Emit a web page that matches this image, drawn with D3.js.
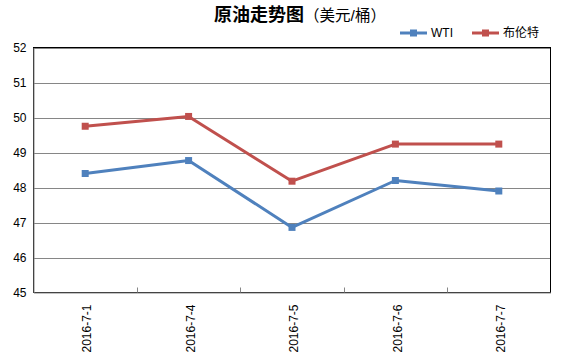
<!DOCTYPE html>
<html><head><meta charset="utf-8">
<script src="https://cdn.jsdelivr.net/npm/d3@7"></script>
<style>body{margin:0;background:#fff}svg{display:block}</style>
</head><body>
<svg id="c" width="567" height="360"></svg>
<script>
const categories = ["2016-7-1","2016-7-4","2016-7-5","2016-7-6","2016-7-7"];
const wti = [48.4, 48.77, 46.86, 48.2, 47.9];
const brent = [49.75, 50.03, 48.18, 49.24, 49.24];
const seriesNames = ["WTI","布伦特"];
const yTicks = [45,46,47,48,49,50,51,52];
const colors = ["#4F81BD","#C0504D"];

const svg = d3.select("#c");
const L=33.5, R=550.5, T=47.5, B=292.5;
const x = d3.scaleBand().domain(categories).range([L,R]);
const y = d3.scaleLinear().domain([45,52]).range([B,T]);
const font = "'Liberation Sans','Noto Sans CJK SC',sans-serif";

// gridlines
svg.append("g").selectAll("line").data(yTicks.slice(1)).join("line")
  .attr("x1",L).attr("x2",R).attr("y1",d=>Math.round(y(d))+0.5).attr("y2",d=>Math.round(y(d))+0.5)
  .attr("stroke","#868686").attr("stroke-width",1);
// plot border
svg.append("rect").attr("x",L).attr("y",T).attr("width",R-L).attr("height",B-T)
  .attr("fill","none").attr("stroke","#000").attr("stroke-width",1);
// y axis
const ya = svg.append("g").attr("transform",`translate(${L},0)`)
  .call(d3.axisLeft(y).tickValues(yTicks).tickFormat(d3.format("d")).tickSize(0).tickPadding(7));
ya.select(".domain").attr("stroke","#868686");
ya.selectAll("text").attr("font-family",font).attr("font-size",12).attr("fill","#000");
// x axis
const xa = svg.append("g").attr("transform",`translate(0,${B})`)
  .call(d3.axisBottom(x).tickSize(0));
xa.select(".domain").attr("stroke","#868686");
xa.selectAll(".tick text").attr("font-family",font).attr("font-size",12).attr("fill","#000")
  .attr("transform","rotate(-90)").attr("text-anchor","end").attr("x",-12).attr("y",2).attr("dy","0.35em");
// category boundary ticks (inside)
svg.append("g").selectAll("line").data(categories.slice(1)).join("line")
  .attr("x1",d=>Math.round(x(d))+0.5).attr("x2",d=>Math.round(x(d))+0.5)
  .attr("y1",B).attr("y2",B-5).attr("stroke","#868686");

const line = d3.line().x((d,i)=>x(categories[i])+x.bandwidth()/2).y(d=>y(d));
[wti,brent].forEach((s,k)=>{
  svg.append("path").datum(s).attr("d",line).attr("fill","none")
    .attr("stroke",colors[k]).attr("stroke-width",3).attr("stroke-linejoin","round");
  svg.append("g").selectAll("rect").data(s).join("rect")
    .attr("x",(d,i)=>x(categories[i])+x.bandwidth()/2-3.5).attr("y",d=>y(d)-3.5)
    .attr("width",7).attr("height",7).attr("fill",colors[k]);
});

// title
const t = svg.append("text").attr("x",300).attr("y",21).attr("text-anchor","middle").attr("font-family",font);
t.append("tspan").text("原油走势图").attr("font-size",18).attr("font-weight","bold");
t.append("tspan").text("（美元/桶）").attr("font-size",15.5);

// legend
const lg = [{x0:400,tx:431},{x0:472,tx:503}];
seriesNames.forEach((n,k)=>{
  const g = svg.append("g");
  g.append("line").attr("x1",lg[k].x0).attr("x2",lg[k].x0+27).attr("y1",33).attr("y2",33)
    .attr("stroke",colors[k]).attr("stroke-width",3);
  g.append("rect").attr("x",lg[k].x0+10).attr("y",29.5).attr("width",7).attr("height",7).attr("fill",colors[k]);
  g.append("text").attr("x",lg[k].tx).attr("y",33).attr("dy","0.35em").attr("font-family",font)
    .attr("font-size",12).attr("fill","#000").text(n);
});
</script>
</body></html>
